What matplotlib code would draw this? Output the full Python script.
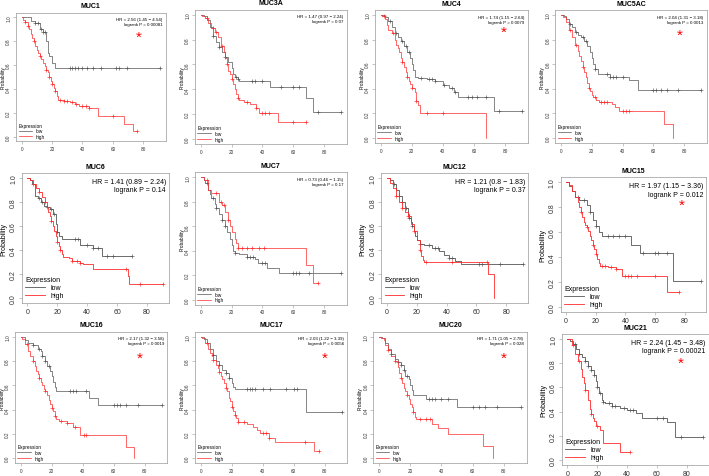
import matplotlib
matplotlib.use("Agg")
from matplotlib import pyplot as plt
from matplotlib.lines import Line2D
import numpy as np

plt.rcParams['font.family'] = ['Liberation Sans', 'DejaVu Sans']

GENES = ["MUC1", "MUC3A", "MUC4", "MUC5AC", "MUC6", "MUC7",
         "MUC12", "MUC15", "MUC16", "MUC17", "MUC20", "MUC21"]

HR_TEXT = ["2.56 (1.45 \u2212 4.54)", "1.47 (0.97 \u2212 2.24)", "1.74 (1.15 \u2212 2.64)",
           "2.04 (1.31 \u2212 3.18)", "1.41 (0.89 \u2212 2.24)", "0.73 (0.46 \u2212 1.15)",
           "1.21 (0.8 \u2212 1.83)", "1.97 (1.15 \u2212 3.36)", "2.17 (1.32 \u2212 3.58)",
           "2.03 (1.22 \u2212 3.39)", "1.71 (1.05 \u2212 2.78)", "2.24 (1.45 \u2212 3.48)"]
P_TEXT = ["0.00081", "0.07", "0.0079", "0.0013", "0.14", "0.17",
          "0.37", "0.012", "0.0019", "0.0056", "0.028", "0.00021"]

# significant genes get a red star (x, y in data units)
STARS = {"MUC1": (77, 0.84), "MUC4": (79, 0.86), "MUC5AC": (77, 0.84), "MUC15": (78, 0.82),
         "MUC16": (77, 0.83), "MUC17": (80, 0.83), "MUC20": (80, 0.83), "MUC21": (76, 0.80)}

# (time, survival) after each drop; censor times
MUC1_LOW = [(6, 0.97), (9, 0.95), (12, 0.9), (14, 0.88), (16, 0.8), (17, 0.7), (18, 0.68), (20, 0.62), (22, 0.575)]
MUC1_LOW_C = [9, 11, 13, 14, 15, 32, 33, 35, 37, 40, 43, 47, 52, 62, 64, 69, 91]
MUC1_HIGH = [(1, 0.98), (2, 0.96), (4, 0.93), (5, 0.9), (6, 0.86), (7, 0.83), (8, 0.8), (9, 0.76), (10, 0.73),
             (11, 0.7), (12, 0.68), (13, 0.65), (14, 0.62), (15, 0.59), (16, 0.56), (17, 0.54), (18, 0.5),
             (19, 0.47), (20, 0.44), (21, 0.41), (22, 0.38), (23, 0.34), (24, 0.31), (28, 0.3), (32, 0.29),
             (35, 0.27), (38, 0.26), (44, 0.24), (50, 0.17), (67, 0.11), (73, 0.05)]
MUC1_HIGH_C = [2, 4, 8, 12, 16, 18, 20, 22, 25, 28, 30, 33, 36, 40, 42, 44, 60, 76]

MUC3A_LOW = [(2, 0.99), (4, 0.96), (6, 0.9), (8, 0.83), (10, 0.78), (12, 0.74), (14, 0.7), (16, 0.66),
             (18, 0.62), (20, 0.57), (21, 0.52), (22, 0.5), (24, 0.48), (25, 0.47), (45, 0.42), (68, 0.33), (73, 0.22)]
MUC3A_LOW_C = [8, 12, 16, 23, 24, 33, 35, 40, 52, 60, 64, 76, 91]
MUC3A_HIGH = [(1, 0.99), (3, 0.97), (5, 0.93), (7, 0.89), (9, 0.86), (11, 0.82), (13, 0.75), (15, 0.7),
              (16, 0.65), (17, 0.6), (18, 0.55), (19, 0.52), (20, 0.48), (21, 0.44), (22, 0.4), (23, 0.36),
              (24, 0.33), (25, 0.31), (28, 0.3), (32, 0.28), (36, 0.25), (38, 0.21), (50, 0.14)]
MUC3A_HIGH_C = [4, 8, 10, 14, 17, 20, 24, 30, 36, 40, 42, 44, 60, 68]

MUC4_LOW = [(3, 0.98), (5, 0.95), (7, 0.9), (9, 0.85), (11, 0.82), (13, 0.79), (15, 0.75), (17, 0.7),
            (19, 0.65), (20, 0.6), (21, 0.55), (22, 0.5), (24, 0.49), (30, 0.48), (35, 0.46), (40, 0.43),
            (44, 0.41), (47, 0.37), (50, 0.33), (73, 0.22)]
MUC4_LOW_C = [6, 10, 14, 16, 18, 26, 31, 33, 35, 41, 46, 48, 56, 59, 62, 68, 76, 91]
MUC4_HIGH = [(1, 0.99), (3, 0.97), (4, 0.92), (5, 0.88), (7, 0.85), (9, 0.8), (10, 0.76), (11, 0.73),
             (12, 0.7), (13, 0.65), (14, 0.62), (15, 0.58), (16, 0.54), (17, 0.5), (18, 0.46), (19, 0.44),
             (20, 0.41), (22, 0.37), (23, 0.3), (24, 0.27), (25, 0.2), (68, 0.0)]
MUC4_HIGH_C = [2, 8, 14, 17, 20, 23, 30, 40]

MUC5AC_LOW = [(2, 0.99), (3, 0.97), (5, 0.93), (7, 0.9), (9, 0.86), (11, 0.84), (13, 0.82), (15, 0.79),
              (17, 0.75), (19, 0.7), (20, 0.65), (21, 0.6), (22, 0.56), (24, 0.52), (32, 0.5), (44, 0.47), (50, 0.39)]
MUC5AC_LOW_C = [6, 10, 14, 16, 22, 30, 32, 34, 36, 40, 60, 62, 65, 69, 76, 91]
MUC5AC_HIGH = [(1, 0.98), (3, 0.94), (5, 0.88), (7, 0.82), (9, 0.76), (11, 0.71), (12, 0.67), (13, 0.63),
               (14, 0.58), (15, 0.54), (16, 0.5), (17, 0.45), (18, 0.41), (19, 0.38), (20, 0.35), (21, 0.33),
               (23, 0.31), (25, 0.29), (33, 0.28), (35, 0.25), (38, 0.22), (67, 0.11), (73, 0.0)]
MUC5AC_HIGH_C = [6, 10, 14, 18, 22, 26, 28, 30, 40, 42, 44]

MUC6_LOW = [(2, 0.98), (3, 0.95), (5, 0.85), (7, 0.83), (9, 0.8), (11, 0.77), (13, 0.76), (15, 0.74),
            (17, 0.7), (19, 0.62), (20, 0.55), (21, 0.52), (23, 0.49), (35, 0.44), (44, 0.42), (50, 0.35)]
MUC6_LOW_C = [8, 10, 13, 16, 18, 20, 32, 34, 40, 44, 47, 53, 57, 70]
MUC6_HIGH = [(2, 0.98), (4, 0.95), (6, 0.92), (8, 0.88), (10, 0.84), (12, 0.8), (13, 0.76), (14, 0.72),
             (15, 0.68), (16, 0.64), (17, 0.6), (18, 0.56), (19, 0.52), (20, 0.47), (21, 0.43), (22, 0.4),
             (23, 0.37), (24, 0.34), (28, 0.33), (30, 0.31), (35, 0.29), (37, 0.28), (44, 0.24), (67, 0.18), (68, 0.12)]
MUC6_HIGH_C = [4, 8, 12, 16, 20, 22, 30, 33, 35, 66, 75, 91]

MUC7_LOW = [(2, 0.98), (3, 0.95), (5, 0.9), (6, 0.86), (7, 0.83), (9, 0.78), (10, 0.75), (12, 0.7),
            (14, 0.65), (16, 0.6), (17, 0.55), (19, 0.5), (20, 0.45), (21, 0.4), (22, 0.38), (25, 0.37),
            (30, 0.35), (35, 0.33), (37, 0.3), (43, 0.26), (51, 0.22)]
MUC7_LOW_C = [4, 8, 10, 14, 16, 22, 30, 32, 34, 40, 42, 60, 62, 64, 70, 91]
MUC7_HIGH = [(2, 0.98), (5, 0.9), (7, 0.87), (12, 0.8), (14, 0.77), (16, 0.72), (18, 0.65), (19, 0.6),
             (20, 0.55), (22, 0.5), (23, 0.46), (24, 0.42), (68, 0.28), (73, 0.14)]
MUC7_HIGH_C = [4, 10, 13, 15, 18, 24, 27, 30, 33, 38, 41, 76]

MUC12_LOW = [(2, 0.98), (4, 0.95), (6, 0.9), (8, 0.85), (10, 0.8), (12, 0.75), (14, 0.7), (15, 0.67),
             (16, 0.63), (17, 0.6), (18, 0.56), (19, 0.52), (20, 0.48), (22, 0.45), (25, 0.44), (30, 0.42),
             (35, 0.39), (38, 0.36), (42, 0.33), (46, 0.31), (50, 0.28)]
MUC12_LOW_C = [5, 8, 10, 13, 15, 17, 22, 28, 32, 34, 42, 44, 62, 64, 76, 91]
MUC12_HIGH = [(2, 0.96), (4, 0.92), (6, 0.85), (8, 0.8), (10, 0.75), (12, 0.72), (14, 0.68), (16, 0.62),
              (18, 0.56), (20, 0.48), (22, 0.4), (23, 0.35), (24, 0.32), (25, 0.3), (68, 0.2), (72, 0.0)]
MUC12_HIGH_C = [6, 10, 14, 18, 22, 26, 44, 67]

MUC15_LOW = [(2, 0.97), (4, 0.93), (6, 0.88), (9, 0.86), (14, 0.82), (16, 0.76), (18, 0.7), (20, 0.65),
             (22, 0.6), (24, 0.57), (44, 0.5), (50, 0.43), (72, 0.21)]
MUC15_LOW_C = [8, 12, 16, 20, 28, 32, 36, 40, 52, 60, 62, 68, 91]
MUC15_HIGH = [(2, 0.98), (4, 0.93), (6, 0.88), (8, 0.84), (9, 0.8), (10, 0.76), (11, 0.72), (12, 0.68),
              (13, 0.66), (14, 0.64), (15, 0.61), (16, 0.57), (17, 0.54), (18, 0.5), (19, 0.46), (20, 0.42),
              (21, 0.38), (22, 0.35), (23, 0.33), (28, 0.32), (34, 0.3), (38, 0.25), (68, 0.12)]
MUC15_HIGH_C = [10, 14, 18, 20, 24, 26, 30, 34, 40, 42, 44, 48, 60, 76]

MUC16_LOW = [(3, 0.97), (5, 0.95), (8, 0.93), (11, 0.9), (13, 0.88), (14, 0.84), (16, 0.8), (17, 0.76),
             (19, 0.72), (20, 0.68), (21, 0.63), (22, 0.59), (23, 0.55), (44, 0.5), (50, 0.44)]
MUC16_LOW_C = [8, 12, 14, 16, 18, 32, 34, 36, 42, 60, 62, 64, 68, 76, 91]
MUC16_HIGH = [(1, 0.98), (3, 0.94), (5, 0.88), (6, 0.84), (8, 0.8), (9, 0.76), (10, 0.72), (11, 0.69),
              (12, 0.66), (13, 0.63), (14, 0.6), (15, 0.57), (16, 0.55), (17, 0.52), (18, 0.48), (19, 0.45),
              (20, 0.41), (21, 0.39), (22, 0.35), (23, 0.32), (25, 0.31), (30, 0.29), (34, 0.26), (38, 0.19),
              (68, 0.09), (73, 0.0)]
MUC16_HIGH_C = [4, 8, 12, 16, 20, 22, 26, 30, 35, 41, 42]

MUC17_LOW = [(2, 0.98), (4, 0.95), (6, 0.9), (8, 0.85), (10, 0.8), (12, 0.77), (14, 0.73), (16, 0.7),
             (18, 0.66), (20, 0.62), (21, 0.59), (22, 0.57), (68, 0.38)]
MUC17_LOW_C = [8, 12, 16, 18, 30, 32, 33, 35, 40, 45, 55, 60, 62, 91]
MUC17_HIGH = [(1, 0.99), (3, 0.95), (5, 0.9), (6, 0.87), (7, 0.84), (8, 0.81), (10, 0.77), (11, 0.74),
              (12, 0.71), (13, 0.68), (14, 0.65), (15, 0.62), (16, 0.58), (17, 0.55), (18, 0.5), (19, 0.47),
              (20, 0.42), (21, 0.39), (22, 0.36), (23, 0.33), (24, 0.3), (30, 0.28), (34, 0.26), (36, 0.23),
              (38, 0.21), (44, 0.17), (48, 0.13), (73, 0.06)]
MUC17_HIGH_C = [4, 8, 12, 16, 20, 22, 24, 28, 40, 42, 44, 67, 76]

MUC20_LOW = [(2, 0.99), (4, 0.95), (6, 0.9), (8, 0.86), (10, 0.82), (12, 0.79), (14, 0.77), (16, 0.73),
             (17, 0.68), (19, 0.65), (20, 0.6), (21, 0.56), (22, 0.52), (30, 0.49), (50, 0.42)]
MUC20_LOW_C = [8, 12, 14, 16, 18, 32, 34, 36, 40, 44, 60, 64, 68, 76, 91]
MUC20_HIGH = [(1, 0.99), (3, 0.97), (4, 0.93), (6, 0.89), (8, 0.84), (10, 0.8), (12, 0.75), (13, 0.7),
              (14, 0.66), (15, 0.62), (16, 0.58), (17, 0.55), (18, 0.52), (19, 0.49), (20, 0.45), (21, 0.42),
              (22, 0.38), (23, 0.34), (24, 0.32), (34, 0.28), (38, 0.25), (44, 0.2), (67, 0.1), (73, 0.0)]
MUC20_HIGH_C = [6, 10, 14, 18, 22, 26, 30, 33]

MUC21_LOW = [(2, 0.98), (4, 0.96), (6, 0.92), (8, 0.88), (10, 0.85), (12, 0.82), (14, 0.78), (16, 0.74),
             (18, 0.7), (19, 0.65), (20, 0.6), (21, 0.55), (23, 0.5), (24, 0.48), (25, 0.47), (30, 0.45),
             (35, 0.43), (40, 0.41), (46, 0.39), (50, 0.35), (67, 0.31), (72, 0.19)]
MUC21_LOW_C = [5, 8, 12, 14, 16, 18, 20, 22, 24, 28, 30, 32, 38, 42, 44, 60, 64, 76, 91]
MUC21_HIGH = [(3, 0.95), (5, 0.88), (7, 0.82), (9, 0.75), (10, 0.69), (11, 0.64), (12, 0.58), (14, 0.5),
              (15, 0.42), (16, 0.38), (17, 0.35), (18, 0.32), (19, 0.28), (22, 0.25), (24, 0.14), (35, 0.07)]
MUC21_HIGH_C = [4, 8, 12, 16, 20, 42]

CURVES = {
    "MUC1": (MUC1_LOW, MUC1_LOW_C, MUC1_HIGH, MUC1_HIGH_C),
    "MUC3A": (MUC3A_LOW, MUC3A_LOW_C, MUC3A_HIGH, MUC3A_HIGH_C),
    "MUC4": (MUC4_LOW, MUC4_LOW_C, MUC4_HIGH, MUC4_HIGH_C),
    "MUC5AC": (MUC5AC_LOW, MUC5AC_LOW_C, MUC5AC_HIGH, MUC5AC_HIGH_C),
    "MUC6": (MUC6_LOW, MUC6_LOW_C, MUC6_HIGH, MUC6_HIGH_C),
    "MUC7": (MUC7_LOW, MUC7_LOW_C, MUC7_HIGH, MUC7_HIGH_C),
    "MUC12": (MUC12_LOW, MUC12_LOW_C, MUC12_HIGH, MUC12_HIGH_C),
    "MUC15": (MUC15_LOW, MUC15_LOW_C, MUC15_HIGH, MUC15_HIGH_C),
    "MUC16": (MUC16_LOW, MUC16_LOW_C, MUC16_HIGH, MUC16_HIGH_C),
    "MUC17": (MUC17_LOW, MUC17_LOW_C, MUC17_HIGH, MUC17_HIGH_C),
    "MUC20": (MUC20_LOW, MUC20_LOW_C, MUC20_HIGH, MUC20_HIGH_C),
    "MUC21": (MUC21_LOW, MUC21_LOW_C, MUC21_HIGH, MUC21_HIGH_C),
}

# panels drawn with the bigger font
BIG_FONT = ["MUC6", "MUC12", "MUC15", "MUC21"]

# pixel position of x=0, x=80, y=1, y=0 for each panel
PANEL_PX = [(21.7, 143.3, 18.3, 137.7), (200.7, 324, 15.7, 140), (380.7, 505, 16, 139), (561, 684, 16, 139),
            (27.3, 147, 179, 299), (200.7, 324, 178.3, 300.7), (386.7, 506.3, 179, 299), (566, 684.7, 183.3, 307.7),
            (20.7, 144.7, 337.7, 459.3), (200.7, 324.7, 337.7, 459.3), (379, 503.7, 337.7, 459.3),
            (567.3, 686.7, 340, 461)]

W, H = 709, 477
LOW_COL = "#555555"
HIGH_COL = "#ff2a2a"
FRAME_COL = "#999999"


def surv_at(steps, t):
    s = 1.0
    for st, sv in steps:
        if st <= t:
            s = sv
    return s


def draw_curve(ax, steps, cens, color, lw):
    end = max([t for t, _ in steps] + cens)
    xs = [0] + [t for t, _ in steps] + [end]
    ys = [1.0] + [s for _, s in steps] + [steps[-1][1]]
    ax.step(xs, ys, where="post", color=color, lw=lw)
    cy = [surv_at(steps, c) for c in cens]
    ax.plot(cens, cy, ls="none", marker="+", color=color, ms=2.4 if lw < 0.6 else 2.8, mew=0.45)


fig = plt.figure(figsize=(W / 100, H / 100), dpi=100)

for i, gene in enumerate(GENES):
    x0, x80, y1, y0 = PANEL_PX[i]
    sx = (x80 - x0) / 80.0
    sy = y0 - y1
    left = x0 - 3.64 * sx
    width = 98.28 * sx
    top = y1 - 0.04 * sy
    height = 1.08 * sy
    ax = fig.add_axes([left / W, 1 - (top + height) / H, width / W, height / H])
    big = gene in BIG_FONT
    fs = 5.0 if big else 3.4
    hr_fs = 5.0 if big else 3.2
    lw = 0.6 if big else 0.5

    low, low_c, high, high_c = CURVES[gene]
    draw_curve(ax, low, low_c, LOW_COL, lw)
    draw_curve(ax, high, high_c, HIGH_COL, lw)

    ax.set_xlim(-3.64, 94.64)
    ax.set_ylim(-0.04, 1.04)
    ax.set_xticks([0, 20, 40, 60, 80])
    ax.set_yticks([0.0, 0.2, 0.4, 0.6, 0.8, 1.0])
    ax.set_yticklabels(["0.0", "0.2", "0.4", "0.6", "0.8", "1.0"], rotation=90, va="center")
    ax.tick_params(direction="out", length=2, width=0.4, color=FRAME_COL, labelsize=fs, pad=1.5,
                   labelcolor="#333333")
    for sp in ax.spines.values():
        sp.set_color(FRAME_COL)
        sp.set_linewidth(0.5)
    ax.set_ylabel("Probability", fontsize=fs, labelpad=2 if big else 0.5)
    ax.set_title(gene, fontsize=5.0, fontweight="bold", pad=4)

    ax.text(0.98, 0.965, "HR = " + HR_TEXT[i] + "\nlogrank P = " + P_TEXT[i], transform=ax.transAxes,
            ha="right", va="top", fontsize=hr_fs, linespacing=1.3)

    if gene in STARS:
        sx_, sy_ = STARS[gene]
        ax.text(sx_, sy_, "*", color="red", fontsize=11, ha="center", va="center")

    handles = [Line2D([0], [0], color=LOW_COL, lw=lw), Line2D([0], [0], color=HIGH_COL, lw=lw)]
    leg = ax.legend(handles, ["low", "high"], title="Expression", loc="lower left", frameon=False,
                    fontsize=fs, title_fontsize=fs, handlelength=2.8, labelspacing=0.15,
                    borderaxespad=0.3, borderpad=0.2, handletextpad=0.8)
    leg._legend_box.align = "left"

fig.savefig("out.png", dpi=100, facecolor="white")
